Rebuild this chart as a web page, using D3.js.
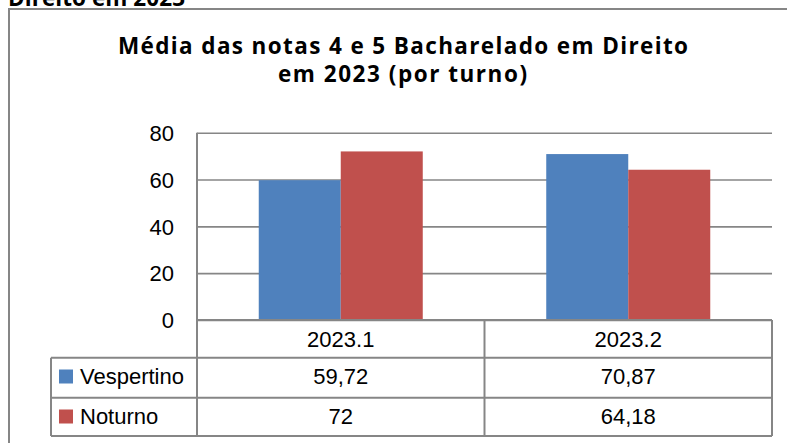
<!DOCTYPE html>
<html>
<head>
<meta charset="utf-8">
<script src="https://cdn.jsdelivr.net/npm/d3@7"></script>
<style>
  body { margin: 0; background: #fff; }
  svg { display: block; font-family: "Liberation Sans", Arial, sans-serif; }
  .bold { font-family: "Open Sans", "Liberation Sans", Arial, sans-serif; font-weight: bold; }
</style>
</head>
<body>
<svg id="svg" width="787" height="443"></svg>
<script>
const categories = ['2023.1', '2023.2']
const series = ['Vespertino', 'Noturno']
const vespertino = [59.72, 70.87]
const noturno = [72, 64.18]
const valueLabels = [['59,72', '70,87'], ['72', '64,18']]
const yTicks = [0, 20, 40, 60, 80]
const colours = ['#4F81BD', '#C0504D']

const width = 787
const height = 443
const plot = { left: 197, right: 772, top: 132.7, bottom: 320 }
const rowEdges = [320, 357.7, 397.7, 436]
const legendLeft = 51
const grey = '#868686'

const svg = d3.select('#svg')

// text cut off at the top of the page
svg.append('text')
  .attr('class', 'bold')
  .attr('x', 8)
  .attr('y', 6)
  .attr('font-size', 22.5)
  .attr('textLength', 177)
  .attr('lengthAdjust', 'spacing')
  .text('Direito em 2023')

// chart frame
svg.append('rect')
  .attr('x', 9).attr('y', 9)
  .attr('width', width).attr('height', height)
  .attr('fill', 'none')
  .attr('stroke', grey)
  .attr('stroke-width', 2)

// title
const titleLines = [
  { text: 'Média das notas 4 e 5 Bacharelado em Direito', x: 118, y: 54, w: 570 },
  { text: 'em 2023 (por turno)', x: 278, y: 82, w: 249 }
]
svg.append('g')
  .selectAll('text')
  .data(titleLines)
  .enter()
  .append('text')
  .attr('class', 'bold')
  .attr('x', d => d.x)
  .attr('y', d => d.y)
  .attr('font-size', 22.5)
  .attr('textLength', d => d.w)
  .attr('lengthAdjust', 'spacing')
  .text(d => d.text)

const yScale = d3.scaleLinear()
  .domain([0, 80])
  .range([plot.bottom, plot.top])

const x0 = d3.scaleBand()
  .domain(categories)
  .range([plot.left, plot.right])
  .padding(0)

const x1 = d3.scaleBand()
  .domain(series)
  .range([0, x0.bandwidth()])
  .paddingInner(0)
  .paddingOuter(0.753)

// gridlines
const yAxis = d3.axisLeft(yScale)
  .tickValues(yTicks)
  .tickSize(-(plot.right - plot.left))
  .tickPadding(23)

const yAxisG = svg.append('g')
  .attr('transform', `translate(${plot.left}, 0)`)
  .call(yAxis)
yAxisG.select('.domain').remove()
yAxisG.selectAll('.tick line')
  .attr('stroke', grey)
  .attr('stroke-width', 1.6)
yAxisG.selectAll('.tick text')
  .attr('font-size', 22)
  .attr('fill', '#000')
  .attr('dy', '0.35em')
  .attr('font-family', '"Liberation Sans", Arial, sans-serif')

// bars
const table = categories.map((c, i) => ({ category: c, values: [vespertino[i], noturno[i]] }))

const groups = svg.append('g')
  .selectAll('g')
  .data(table)
  .enter()
  .append('g')
  .attr('transform', d => `translate(${x0(d.category)}, 0)`)

groups.selectAll('rect')
  .data(d => d.values.map((v, j) => ({ series: series[j], value: v, j })))
  .enter()
  .append('rect')
  .attr('x', d => x1(d.series))
  .attr('y', d => yScale(d.value))
  .attr('width', x1.bandwidth())
  .attr('height', d => plot.bottom - yScale(d.value))
  .attr('fill', d => colours[d.j])

// data table lines
const lines = svg.append('g')
  .attr('stroke', grey)
  .attr('stroke-width', 2)
  .attr('fill', 'none')

// value axis line (continues down through the table)
lines.append('line')
  .attr('x1', plot.left).attr('x2', plot.left)
  .attr('y1', plot.top).attr('y2', rowEdges[3])
// horizontal row lines
lines.append('line')
  .attr('x1', plot.left).attr('x2', plot.right)
  .attr('y1', rowEdges[0]).attr('y2', rowEdges[0])
rowEdges.slice(1).forEach(y => {
  lines.append('line')
    .attr('x1', legendLeft).attr('x2', plot.right)
    .attr('y1', y).attr('y2', y)
})
// legend box left edge
lines.append('line')
  .attr('x1', legendLeft).attr('x2', legendLeft)
  .attr('y1', rowEdges[1]).attr('y2', rowEdges[3])
// category separators and right edge
categories.forEach(c => {
  lines.append('line')
    .attr('x1', x0(c) + x0.bandwidth()).attr('x2', x0(c) + x0.bandwidth())
    .attr('y1', rowEdges[0]).attr('y2', rowEdges[3])
})

// category labels
svg.append('g')
  .selectAll('text')
  .data(categories)
  .enter()
  .append('text')
  .attr('x', d => x0(d) + x0.bandwidth() / 2)
  .attr('y', 347)
  .attr('text-anchor', 'middle')
  .attr('font-size', 22)
  .text(d => d)

// legend rows and values
series.forEach((s, j) => {
  const baseline = [383.5, 423.5][j]
  svg.append('rect')
    .attr('x', 59)
    .attr('y', baseline - 14)
    .attr('width', 14)
    .attr('height', 14)
    .attr('fill', colours[j])
  svg.append('text')
    .attr('x', 80)
    .attr('y', baseline)
    .attr('font-size', 22)
    .text(s)
  categories.forEach((c, i) => {
    svg.append('text')
      .attr('x', x0(c) + x0.bandwidth() / 2)
      .attr('y', baseline)
      .attr('text-anchor', 'middle')
      .attr('font-size', 22)
      .text(valueLabels[j][i])
  })
})
</script>
</body>
</html>
